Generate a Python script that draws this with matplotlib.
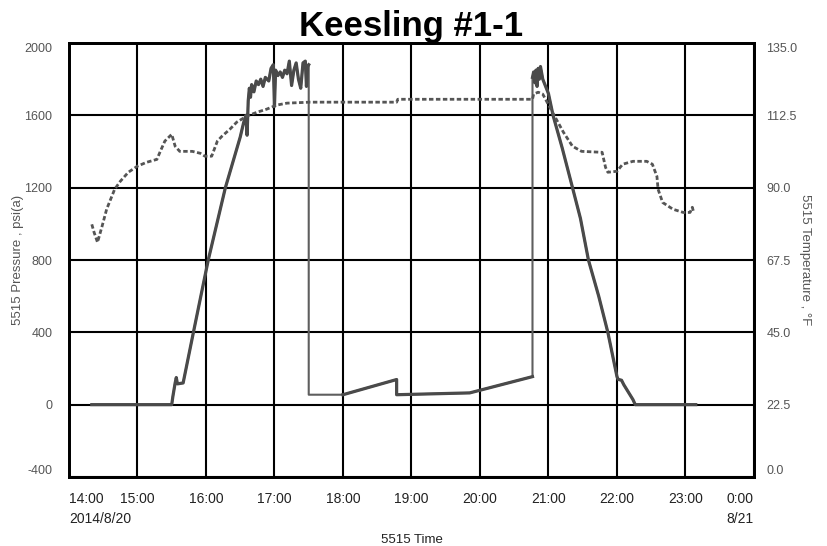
import matplotlib
matplotlib.use("Agg")
import matplotlib.pyplot as plt

plt.rcParams['font.family'] = ['Liberation Sans', 'DejaVu Sans']

# --- Data ---
# pressure gauge, psi(a)
p_time = ["14:20", "15:30", "15:31", "15:33", "15:34", "15:35", "15:40", "15:49",
          "16:02", "16:17", "16:30", "16:33", "16:35", "16:36", "16:37", "16:38",
          "16:39", "16:40", "16:42", "16:44", "16:46", "16:48", "16:50", "16:52",
          "16:55", "16:57", "16:59", "17:00", "17:01", "17:03", "17:05", "17:07",
          "17:09", "17:11", "17:13", "17:15", "17:17", "17:19", "17:21", "17:23",
          "17:25", "17:27", "17:28", "17:29", "17:30", "17:30", "18:00", "18:47",
          "18:47", "19:51", "20:46", "20:46", "20:47", "20:48", "20:49", "20:50",
          "20:51", "20:52", "20:53", "20:55", "21:00", "21:04", "21:12", "21:19",
          "21:28", "21:35", "21:44", "21:52", "22:00", "22:01", "22:04", "22:06",
          "22:14", "22:16", "23:09"]
pressure = [0, 0, 45, 120, 150, 115, 120, 400,
            800, 1200, 1480, 1560, 1600, 1490, 1680, 1750,
            1700, 1770, 1730, 1790, 1770, 1800, 1760, 1810,
            1790, 1860, 1880, 1650, 1850, 1820, 1840, 1810,
            1850, 1830, 1900, 1765, 1850, 1890, 1800, 1750,
            1890, 1900, 1760, 1870, 1880, 55, 55, 139,
            55, 65, 155, 1810, 1840, 1780, 1850, 1760,
            1860, 1800, 1870, 1800, 1720, 1600, 1420, 1250,
            1030, 800, 600, 400, 155, 140, 135, 110,
            28, 0, 0]

# temperature gauge, deg F
t_time = ["14:20", "14:22", "14:25", "14:29", "14:33", "14:40", "14:45", "14:52",
          "15:00", "15:08", "15:17", "15:20", "15:24", "15:30", "15:33", "15:37",
          "15:48", "15:55", "15:59", "16:05", "16:10", "16:14", "16:21", "16:27",
          "16:36", "16:45", "16:53", "17:02", "17:11", "17:31", "18:47", "18:48",
          "20:46", "20:47", "20:51", "20:55", "21:03", "21:13", "21:21", "21:29",
          "21:47", "21:50", "21:52", "22:00", "22:05", "22:14", "22:26", "22:31",
          "22:35", "22:36", "22:40", "22:49", "22:58", "23:04", "23:06", "23:07"]
temperature = [78.6, 76.1, 73.0, 78.0, 83.3, 89.5, 92.0, 94.8,
               96.7, 97.9, 98.8, 101.3, 104.5, 106.6, 102.9, 101.3,
               101.3, 100.7, 99.8, 99.8, 104.5, 106.0, 108.2, 110.4,
               112.3, 113.5, 114.4, 115.7, 116.3, 116.6, 116.6, 117.5,
               117.5, 119.1, 119.7, 119.1, 113.8, 107.3, 102.9, 101.3,
               101.0, 96.3, 94.8, 95.1, 97.3, 98.2, 98.2, 97.3,
               93.5, 89.5, 85.4, 83.3, 82.3, 82.3, 83.9, 82.6]

hour_ticks = list(range(14, 25))
hour_labels = ["14:00", "15:00", "16:00", "17:00", "18:00", "19:00",
               "20:00", "21:00", "22:00", "23:00", "0:00"]
date_labels = {14: "2014/8/20", 24: "8/21"}
p_ticks = [-400, 0, 400, 800, 1200, 1600, 2000]
t_ticks = [0.0, 22.5, 45.0, 67.5, 90.0, 112.5, 135.0]


def to_hours(stamps):
    out = []
    for s in stamps:
        h, m = s.split(":")
        out.append(int(h) + int(m) / 60.0)
    return out


fig = plt.figure(figsize=(8.27, 5.46), dpi=100)
ax = fig.add_axes([0.0834, 0.1264, 0.8283, 0.7948])
ax2 = ax.twinx()

ph = to_hours(p_time)
# whole trace thin (the sparse jumps look thin), densely logged parts thicker
ax.plot(ph, pressure, color="#5e5e5e", lw=1.5, zorder=3)
for i0, i1 in [(0, 45), (46, 51), (51, len(ph))]:
    ax.plot(ph[i0:i1], pressure[i0:i1], color="#4a4a4a", lw=2.3, zorder=3)

ax2.plot(to_hours(t_time), temperature, color="#555555", lw=2.0,
         dashes=(1.6, 0.9), zorder=3)

ax.set_xlim(14, 24)
ax.set_ylim(-400, 2000)
ax2.set_ylim(0, 135)

ax.set_xticks(hour_ticks)
ax.set_xticklabels(hour_labels, fontsize=10, color="#222222")
ax.set_yticks(p_ticks)
ax.set_yticklabels([str(v) for v in p_ticks], fontsize=9, color="#555555")
ax2.set_yticks(t_ticks)
ax2.set_yticklabels(["%.1f" % v for v in t_ticks], fontsize=9, color="#555555")

# keep the end labels inside the plot box
xl = ax.get_xticklabels()
xl[0].set_horizontalalignment("left")
xl[-1].set_horizontalalignment("right")
for a in (ax, ax2):
    yl = a.get_yticklabels()
    yl[0].set_verticalalignment("bottom")
    yl[-1].set_verticalalignment("top")

# date line under the first and last time labels
for hx, txt in date_labels.items():
    ax.annotate(txt, xy=(hx, 0), xycoords=("data", "axes fraction"),
                xytext=(0, -25), textcoords="offset points",
                ha="left" if hx == 14 else "right", va="top",
                fontsize=10, color="#222222")

ax.tick_params(axis="y", length=0, pad=12)
ax.tick_params(axis="x", length=0, pad=11)
ax2.tick_params(axis="y", length=0, pad=9)

ax.grid(True, color="black", lw=1.5)
for a in (ax, ax2):
    for sp in a.spines.values():
        sp.set_linewidth(2)
        sp.set_color("black")

ax.set_title("Keesling #1-1", fontsize=25, fontweight="bold", pad=5)
ax.set_xlabel("5515 Time", fontsize=9.5, color="#222222", labelpad=20)
ax.set_ylabel("5515 Pressure , psi(a)", fontsize=9.5, color="#555555", labelpad=0)
ax2.set_ylabel("5515 Temperature , \u00b0F", fontsize=9.5, color="#555555",
               rotation=-90, labelpad=10)

fig.savefig("out.png", dpi=100)
